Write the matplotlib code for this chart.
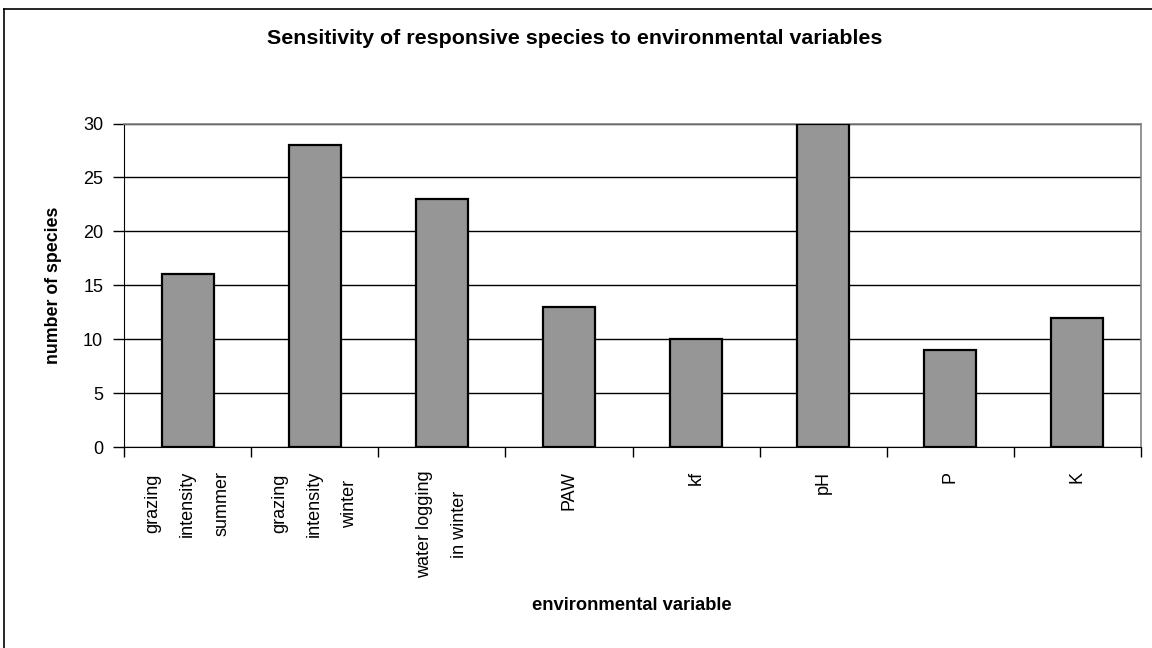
import matplotlib
matplotlib.use("Agg")
import matplotlib.pyplot as plt
from matplotlib import font_manager
from matplotlib.lines import Line2D

categories = ["grazing\nintensity\nsummer", "grazing\nintensity\nwinter",
              "water logging\nin winter", "PAW", "kf", "pH", "P", "K"]
species = [16, 28, 23, 13, 10, 30, 9, 12]
y_ticks = [0, 5, 10, 15, 20, 25, 30]

names = set(f.name for f in font_manager.fontManager.ttflist)
narrow = "Liberation Sans Narrow" if "Liberation Sans Narrow" in names else "Liberation Sans"
plt.rcParams["font.family"] = ["Liberation Sans", "DejaVu Sans"]

W, H = 1152, 648
fig = plt.figure(figsize=(W / 100, H / 100), dpi=100)
ax = fig.add_axes([124 / W, 1 - 447 / H, (1141 - 124) / W, (447 - 123.5) / H])

x = list(range(len(categories)))
ax.bar(x, species, width=0.41, color="#969696", edgecolor="black", linewidth=1.6, zorder=3)

ax.set_xlim(-0.5, len(categories) - 0.5)
ax.set_ylim(0, 30)
ax.set_yticks(y_ticks)
ax.set_yticklabels([str(v) for v in y_ticks], fontsize=13)
ax.yaxis.grid(True, color="black", linewidth=1, zorder=1)

# ticks on category boundaries, labels centred between them
ax.set_xticks([i - 0.5 for i in range(len(categories) + 1)])
ax.set_xticklabels([])
ax.set_xticks(x, minor=True)
ax.set_xticklabels(categories, minor=True, rotation=90, fontsize=13,
                   va="top", ha="center", multialignment="center", linespacing=2.35)
ax.tick_params(axis="x", which="major", direction="out", length=7, width=1)
ax.tick_params(axis="x", which="minor", length=0, pad=17)
ax.tick_params(axis="y", direction="out", length=8, width=1, pad=7)

for s in ["left", "bottom"]:
    ax.spines[s].set_color("black")
for s in ["top", "right"]:
    ax.spines[s].set_color("#808080")
    ax.spines[s].set_linewidth(1.2)

ax.set_ylabel("number of species", fontsize=12.8, fontweight="bold", family=narrow)
ax.yaxis.set_label_coords(-62 / (1141 - 124), 0.5)
fig.text(632 / W, 1 - 605 / H, "environmental variable", fontsize=13.2, fontweight="bold",
         family=narrow, ha="center", va="center")
fig.text(575 / W, 1 - 39 / H, "Sensitivity of responsive species to environmental variables",
         fontsize=15.4, fontweight="bold", family=narrow, ha="center", va="center")

# outer chart border (left and top edges visible)
fig.add_artist(Line2D([4 / W, 4 / W], [0, 1 - 9 / H], color="black", linewidth=1.2))
fig.add_artist(Line2D([4 / W, 1], [1 - 9 / H, 1 - 9 / H], color="black", linewidth=1.2))

fig.savefig("out.png", dpi=100)
